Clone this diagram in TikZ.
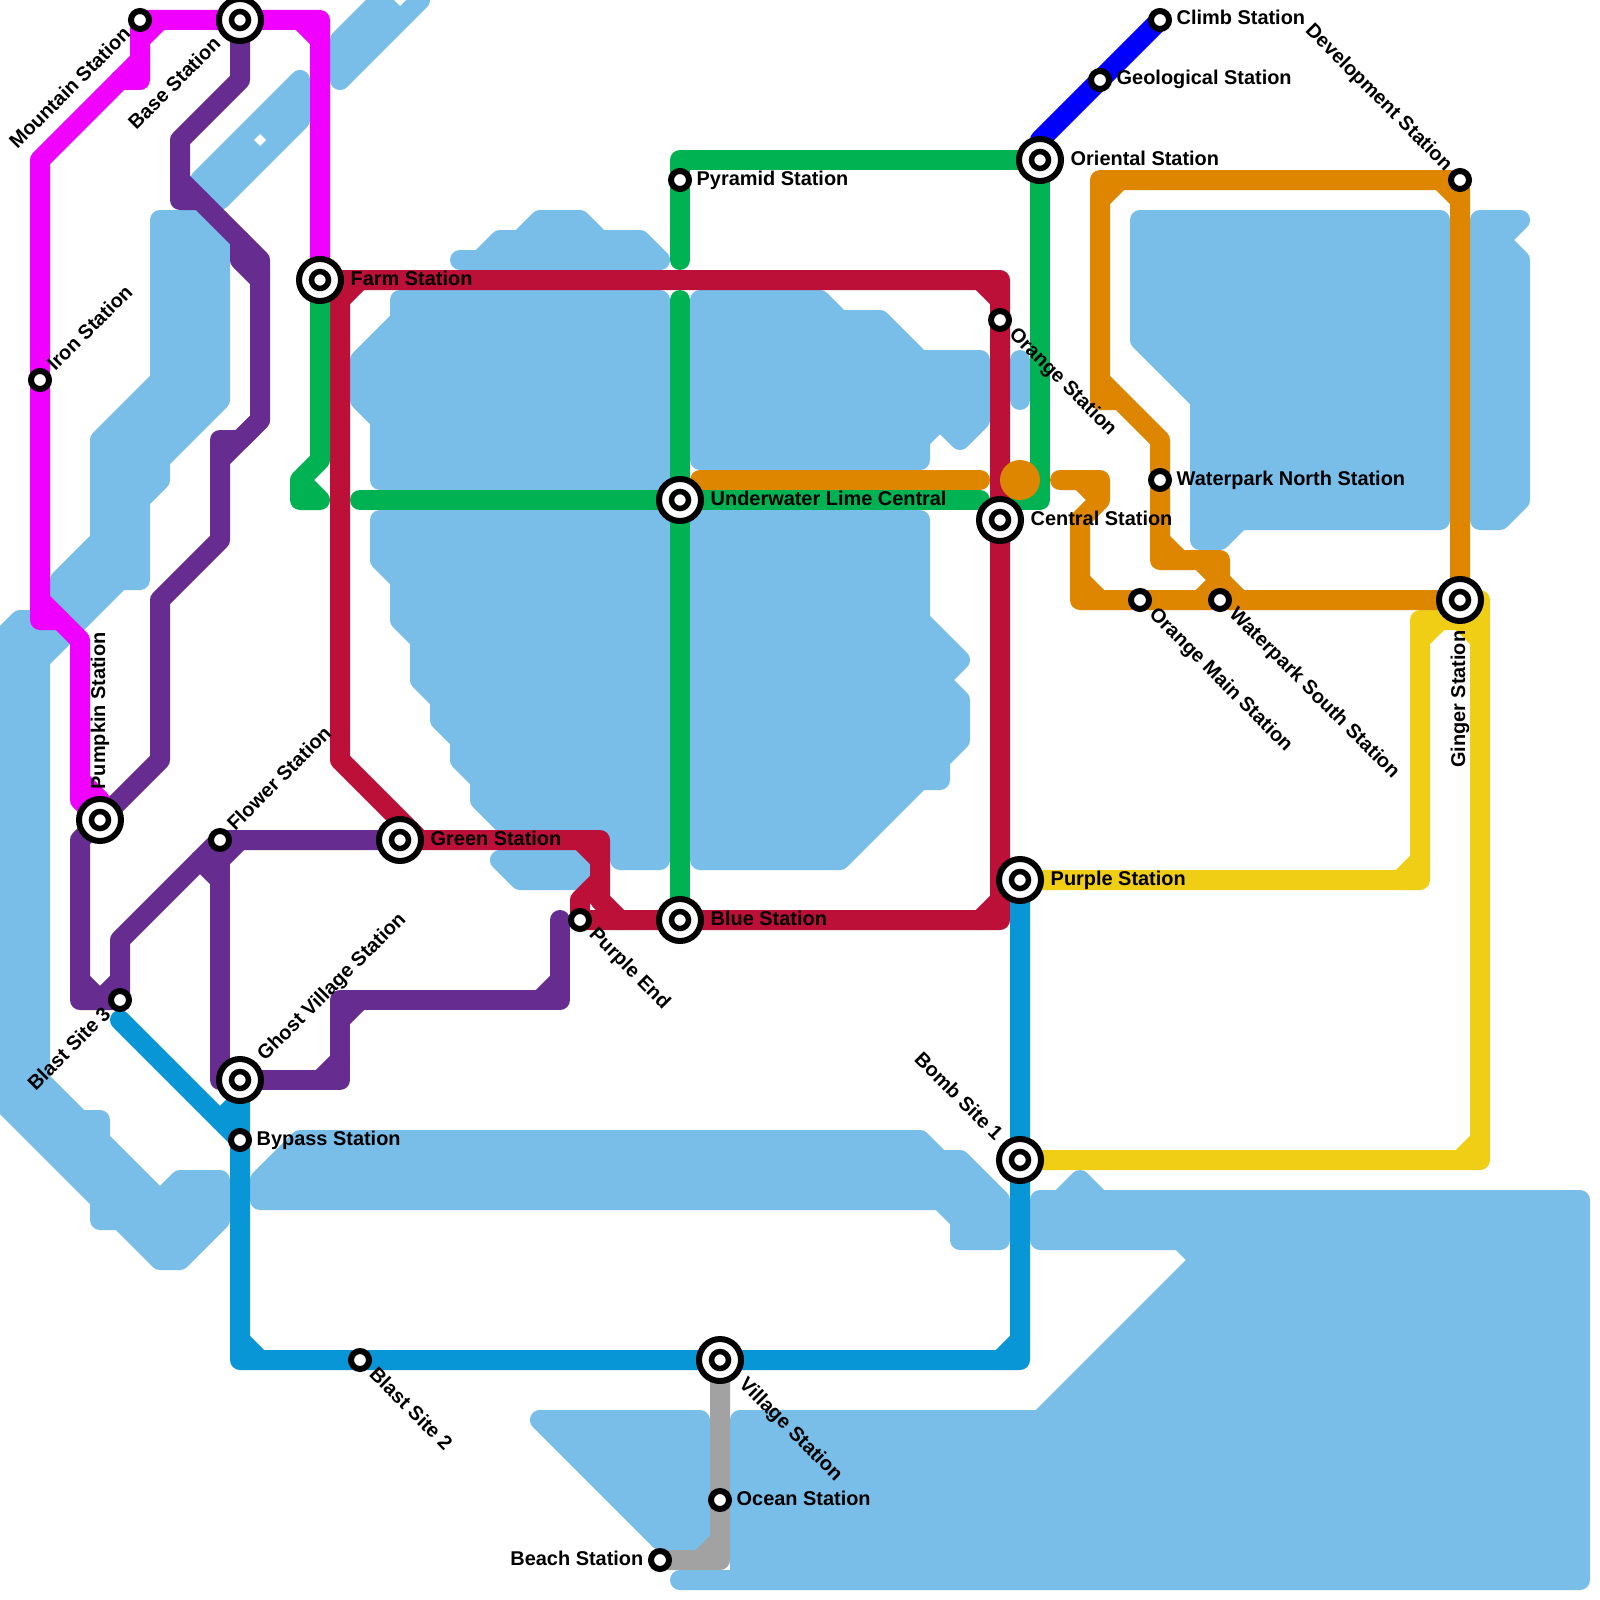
\documentclass[tikz,border=0pt]{standalone}
\usepackage{fontspec}
\setmainfont{Liberation Sans}
\usetikzlibrary{backgrounds}
\definecolor{lake}{HTML}{79BDE9}
\definecolor{mag}{HTML}{F000FF}
\definecolor{plum}{HTML}{662C90}
\definecolor{ruby}{HTML}{BD1038}
\definecolor{leaf}{HTML}{00B251}
\definecolor{sky}{HTML}{0896D7}
\definecolor{gold}{HTML}{F0CE15}
\definecolor{amber}{HTML}{DF8600}
\definecolor{royal}{HTML}{0000FF}
\definecolor{stone}{HTML}{A2A2A2}
\tikzset{
  metro/.style={line width=20bp, line join=round, line cap=round},
  water/.style={fill=lake, draw=lake, line width=20bp, line join=round, line cap=round},
  halt/.style={circle, draw=black, fill=white, line width=6bp, minimum size=18bp, inner sep=0pt},
  hub/.style={circle, draw=black, fill=white, line width=6bp, minimum size=42bp, inner sep=0pt,
    path picture={\filldraw[draw=black, fill=white, line width=5.5bp] (path picture bounding box.center) circle (8.5bp);}},
  after/.style={font=\bfseries\fontsize{20}{22}\selectfont, text=black, inner sep=0pt, anchor=base west, xshift=#1, yshift=-5bp},
  before/.style={font=\bfseries\fontsize{20}{22}\selectfont, text=black, inner sep=0pt, anchor=base east, xshift=-#1, yshift=-5bp}
}
\begin{document}
\begin{tikzpicture}[x=1bp, y=-1bp]
  \path[use as bounding box] (0,0) rectangle (1600,1600);
  % Interchanges
  \node[hub] (base) at (240,20) {};
  \node[hub] (farm) at (320,280) {};
  \node[hub] (pumpkin) at (100,820) {};
  \node[hub] (green) at (400,840) {};
  \node[hub] (ghost) at (240,1080) {};
  \node[hub] (lime) at (680,500) {};
  \node[hub] (bluest) at (680,920) {};
  \node[hub] (oriental) at (1040,160) {};
  \node[hub] (central) at (1000,520) {};
  \node[hub] (ginger) at (1460,600) {};
  \node[hub] (purple) at (1020,880) {};
  \node[hub] (bomb) at (1020,1160) {};
  \node[hub] (village) at (720,1360) {};
  % Plain stops
  \node[halt] (mountain) at (140,20) {};
  \node[halt] (iron) at (40,380) {};
  \node[halt] (flower) at (220,840) {};
  \node[halt] (blast3) at (120,1000) {};
  \node[halt] (bypass) at (240,1140) {};
  \node[halt] (blast2) at (360,1360) {};
  \node[halt] (beach) at (660,1560) {};
  \node[halt] (ocean) at (720,1500) {};
  \node[halt] (pyramid) at (680,180) {};
  \node[halt] (orange) at (1000,320) {};
  \node[halt] (purpleend) at (580,920) {};
  \node[halt] (climb) at (1160,20) {};
  \node[halt] (geo) at (1100,80) {};
  \node[halt] (develop) at (1460,180) {};
  \node[halt] (parknorth) at (1160,480) {};
  \node[halt] (parksouth) at (1220,600) {};
  \node[halt] (orangemain) at (1140,600) {};
  % Names, straight
  \node[after=30.5bp] (farm-l) at (farm) {Farm Station};
  \node[after=30.5bp] (green-l) at (green) {Green Station};
  \node[after=30.5bp] (lime-l) at (lime) {Underwater Lime Central};
  \node[after=30.5bp] (bluest-l) at (bluest) {Blue Station};
  \node[after=30.5bp] (oriental-l) at (oriental) {Oriental Station};
  \node[after=30.5bp] (central-l) at (central) {Central Station};
  \node[after=30.5bp] (purple-l) at (purple) {Purple Station};
  \node[after=16.5bp] (bypass-l) at (bypass) {Bypass Station};
  \node[after=16.5bp] (ocean-l) at (ocean) {Ocean Station};
  \node[after=16.5bp] (pyramid-l) at (pyramid) {Pyramid Station};
  \node[after=16.5bp] (climb-l) at (climb) {Climb Station};
  \node[after=16.5bp] (geo-l) at (geo) {Geological Station};
  \node[after=16.5bp] (parknorth-l) at (parknorth) {Waterpark North Station};
  \node[before=16.5bp] (beach-l) at (beach) {Beach Station};
  % Names, turned
  \node[rotate=45, after=16.5bp] (iron-l) at (iron) {Iron Station};
  \node[rotate=45, after=16.5bp] (flower-l) at (flower) {Flower Station};
  \node[rotate=45, after=30.5bp] (ghost-l) at (ghost) {Ghost Village Station};
  \node[rotate=45, before=16.5bp] (mountain-l) at (mountain) {Mountain Station};
  \node[rotate=45, before=30.5bp] (base-l) at (base) {Base Station};
  \node[rotate=45, before=16.5bp] (blast3-l) at (blast3) {Blast Site 3};
  \node[rotate=-45, after=16.5bp] (orange-l) at (orange) {Orange Station};
  \node[rotate=-45, after=16.5bp] (purpleend-l) at (purpleend) {Purple End};
  \node[rotate=-45, after=16.5bp] (blast2-l) at (blast2) {Blast Site 2};
  \node[rotate=-45, after=16.5bp] (orangemain-l) at (orangemain) {Orange Main Station};
  \node[rotate=-45, after=16.5bp] (parksouth-l) at (parksouth) {Waterpark South Station};
  \node[rotate=-45, after=30.5bp] (village-l) at (village) {Village Station};
  \node[rotate=-45, before=16.5bp] (develop-l) at (develop) {Development Station};
  \node[rotate=-45, before=30.5bp] (bomb-l) at (bomb) {Bomb Site 1};
  \node[rotate=90, after=30.5bp] (pumpkin-l) at (pumpkin) {Pumpkin Station};
  \node[rotate=90, before=30.5bp] (ginger-l) at (ginger) {Ginger Station};
  \begin{scope}[on background layer]
    \fill[white] (0,0) rectangle (1600,1600);
    % Water, north-west
    \filldraw[water] (340,80) -- (340,40) -- (380,0) -- (420,0) -- cycle;
    \filldraw[water] (300,80) -- (300,120) -- (220,200) -- (200,180) -- cycle;
    \filldraw[water] (160,220) -- (220,220) -- (220,400) -- (160,460) -- (160,480) -- (140,500) -- (140,580) -- (120,580) -- (80,620) -- (60,600) -- (60,580) -- (100,540) -- (100,440) -- (160,380) -- cycle;
    \filldraw[water] (0,640) -- (20,620) -- (80,620) -- (40,660) -- (40,1080) -- (80,1120) -- (100,1120) -- (100,1140) -- (160,1200) -- (180,1180) -- (220,1180) -- (220,1220) -- (180,1260) -- (160,1260) -- (120,1220) -- (100,1220) -- (100,1200) -- (0,1100) -- (-20,1100) -- (-20,640) -- cycle;
    \fill[white] (260,134) -- (266,140) -- (260,146) -- (254,140) -- cycle;
    \fill[white] (400,-6) -- (406,0) -- (400,6) -- (394,0) -- cycle;
    % Water, middle
    \filldraw[water] (460,260) -- (480,260) -- (500,240) -- (520,240) -- (540,220) -- (580,220) -- (600,240) -- (640,240) -- (660,260) -- cycle;
    \filldraw[water] (400,300) -- (660,300) -- (660,480) -- (380,480) -- (380,420) -- (360,400) -- (360,360) -- (400,320) -- cycle;
    \filldraw[water] (380,520) -- (660,520) -- (660,860) -- (620,860) -- (620,830) -- (510,830) -- (480,800) -- (480,780) -- (460,760) -- (460,740) -- (440,720) -- (440,700) -- (420,680) -- (420,640) -- (400,620) -- (400,580) -- (380,560) -- cycle;
    \filldraw[water] (500,860) -- (580,860) -- (580,880) -- (520,880) -- cycle;
    \filldraw[water] (700,300) -- (820,300) -- (840,320) -- (880,320) -- (920,360) -- (980,360) -- (980,420) -- (960,440) -- (940,420) -- (920,440) -- (920,460) -- (700,460) -- cycle;
    \filldraw[water] (700,520) -- (920,520) -- (920,620) -- (960,660) -- (940,680) -- (960,700) -- (960,740) -- (940,760) -- (940,780) -- (920,780) -- (840,860) -- (700,860) -- cycle;
    \filldraw[water] (1020,360) -- (1020,400);
    % Water, east and south
    \filldraw[water] (1140,220) -- (1440,220) -- (1440,520) -- (1240,520) -- (1220,540) -- (1200,540) -- (1200,400) -- (1140,340) -- cycle;
    \filldraw[water] (1480,220) -- (1520,220) -- (1500,240) -- (1520,260) -- (1520,500) -- (1500,520) -- (1480,520) -- cycle;
    \filldraw[water] (260,1180) -- (300,1140) -- (920,1140) -- (940,1160) -- (960,1160) -- (1000,1200) -- (1000,1240) -- (960,1240) -- (960,1220) -- (940,1200) -- (260,1200) -- cycle;
    \filldraw[water] (540,1420) -- (700,1420) -- (700,1540) -- (660,1540) -- cycle;
    \filldraw[water] (740,1420) -- (1040,1420) -- (1200,1260) -- (1180,1240) -- (1040,1240) -- (1040,1200) -- (1060,1200) -- (1080,1180) -- (1100,1200) -- (1580,1200) -- (1580,1580) -- (680,1580) -- (740,1580) -- cycle;
    % Plum line
    \draw[metro, plum] (base.center) -- (240,80) -- (180,140) -- (180,200) -- (200,200);
    \draw[metro, plum] (180,180) -- (260,260) -- (260,420) -- (240,440) -- (220,440) -- (220,540) -- (160,600) -- (160,760) -- (pumpkin.center) -- (80,840) -- (80,1000) -- (blast3.center) -- (120,940) -- (flower.center) -- (green.center);
    \draw[metro, plum] (240,240) -- (240,260) -- (260,280) (260,420) -- (220,460);
    \draw[metro, plum] (80,980) -- (100,1000) -- (120,980);
    \draw[metro, plum] (flower.center) -- (220,1080) -- (340,1080) -- (340,1000) -- (560,1000) -- (560,920);
    \draw[metro, plum] (200,860) -- (220,880) (220,860) -- (240,840) (320,1080) -- (340,1060) (340,1020) -- (360,1000) (540,1000) -- (560,980);
    % Magenta line
    \draw[metro, mag] (farm.center) -- (320,20) -- (mountain.center) -- (140,80) -- (120,80) -- (40,160) -- (iron.center) -- (40,620) -- (60,620);
    \draw[metro, mag] (300,20) -- (320,40) (140,40) -- (160,20) (140,60) -- (120,80);
    \draw[metro, mag] (40,600) -- (80,640) -- (80,800) -- (pumpkin.center) (80,780) -- (100,800) -- (pumpkin.center);
    % Ruby line
    \draw[metro, ruby] (farm.center) -- (1000,280) -- (orange.center) -- (1000,920) -- (purpleend.center) -- (580,900) -- (600,880);
    \draw[metro, ruby] (340,280) -- (340,760) -- (420,840) (green.center) -- (600,840) -- (600,900) -- (620,920);
    \draw[metro, ruby] (340,300) -- (360,280) (980,280) -- (1000,300) (980,920) -- (1000,900) (580,840) -- (600,860);
    % Leaf line
    \draw[metro, leaf] (farm.center) -- (320,460) -- (300,480) -- (300,500) -- (320,500) (300,480) -- (320,500);
    \draw[metro, leaf] (360,500) -- (lime.center) -- (980,500);
    \draw[metro, leaf] (1020,500) -- (1040,500) -- (oriental.center) -- (680,160) -- (pyramid.center) -- (680,260);
    \draw[metro, leaf] (680,300) -- (lime.center) -- (bluest.center);
    % Sky line
    \draw[metro, sky] (120,1020) -- (bypass.center) (ghost.center) -- (bypass.center) -- (240,1360) -- (blast2.center) -- (village.center) -- (1020,1360) -- (bomb.center) -- (purple.center);
    \draw[metro, sky] (220,1120) -- (240,1100) (240,1340) -- (260,1360) (1000,1360) -- (1020,1340);
    % Gold line
    \draw[metro, gold] (purple.center) -- (1420,880) -- (1420,620) -- (1460,620) -- (1480,640) (1400,880) -- (1420,860) (1420,640) -- (1440,620);
    \draw[metro, gold] (ginger.center) -- (1480,600) -- (1480,1160) -- (bomb.center) (1460,1160) -- (1480,1140);
    % Amber line
    \draw[metro, amber] (700,480) -- (980,480);
    \fill[amber] (1020,480) circle (20);
    \draw[metro, amber] (1060,480) -- (1100,480) -- (1100,500) -- (1080,520) -- (1080,600) -- (orangemain.center) -- (ginger.center) (1080,480) -- (1100,500) (1080,580) -- (1100,600);
    \draw[metro, amber] (ginger.center) -- (develop.center) -- (1460,180) -- (1100,180) -- (1100,400) -- (1120,400) (1100,380) -- (1160,440) -- (parknorth.center) -- (1160,560) -- (1220,560) -- (parksouth.center);
    \draw[metro, amber] (1100,200) -- (1120,180) (1440,180) -- (1460,200) (1160,540) -- (1180,560) (1220,580) -- (1240,600) (1200,560) -- (1220,580) -- (1200,600);
    % Royal line
    \draw[metro, royal] (1040,140) -- (geo.center) -- (climb.center);
    % Stone line
    \draw[metro, stone] (village.center) -- (ocean.center) -- (720,1560) -- (beach.center) (700,1560) -- (720,1540);
  \end{scope}
\end{tikzpicture}
\end{document}
